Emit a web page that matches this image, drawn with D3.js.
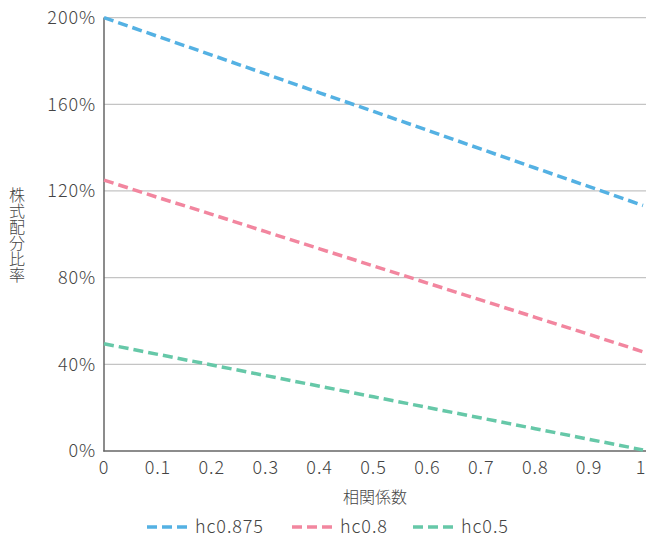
<!DOCTYPE html>
<html><head><meta charset="utf-8">
<script src="https://cdn.jsdelivr.net/npm/d3@7"></script>
<style>
body{margin:0;background:#fff;}
svg{display:block;font-family:"Noto Sans CJK JP","Noto Sans",sans-serif;}
</style></head>
<body>
<svg id="c" width="646" height="541"></svg>
<script>
const xValues = [0,0.1,0.2,0.3,0.4,0.5,0.6,0.7,0.8,0.9,1];
const seriesNames = ["hc0.875","hc0.8","hc0.5"];
const hc0875 = [200,191.3,182.7,174,165.3,156.7,148,139.3,130.6,122,113.3];
const hc08 = [125,117,109.2,101.2,93.3,85.4,77.5,69.6,61.7,53.8,45.8];
const hc05 = [49.5,44.6,39.7,34.8,29.9,25,20.1,15.2,10.3,5.4,0.5];
const colors = ["#54b1e3","#f2869f","#66c8a8"];
const yTicks = [0,40,80,120,160,200];
const xTicks = [0,0.1,0.2,0.3,0.4,0.5,0.6,0.7,0.8,0.9,1];
const xTitle = "相関係数";
const yTitle = "株式配分比率";

const svg = d3.select("#c");
const x = d3.scaleLinear().domain([0,1]).range([104,643]);
const y = d3.scaleLinear().domain([0,200]).range([451,17.6]);
const textColor = "#444";
const numFont = 18, numSpacing = 0.9;

// gridlines
svg.append("g").selectAll("line").data(yTicks.filter(d=>d>0)).join("line")
  .attr("x1",104).attr("x2",646).attr("y1",d=>y(d)).attr("y2",d=>y(d))
  .attr("stroke","#c4c4c4").attr("stroke-width",1.2);

// y tick labels
svg.append("g").selectAll("text").data(yTicks).join("text")
  .attr("x",96).attr("y",d=>y(d)).attr("dy","0.36em")
  .attr("text-anchor","end").attr("font-size",numFont).attr("font-weight",300)
  .attr("letter-spacing",numSpacing).attr("fill",textColor)
  .text(d=>d+"%");

// x tick labels
svg.append("g").selectAll("text").data(xTicks).join("text")
  .attr("x",d=>d===1 ? x(d)-2 : x(d)).attr("y",468).attr("dy","0.36em")
  .attr("text-anchor","middle").attr("font-size",numFont).attr("font-weight",300)
  .attr("letter-spacing",numSpacing).attr("fill",textColor)
  .text(d=>d3.format("")(d));

// axes lines
svg.append("line").attr("x1",104).attr("x2",104).attr("y1",17.6).attr("y2",451.5)
  .attr("stroke","#666").attr("stroke-width",1.5);
svg.append("line").attr("x1",103.3).attr("x2",646).attr("y1",451).attr("y2",451)
  .attr("stroke","#666").attr("stroke-width",1.5);

// lines
const data = [hc0875,hc08,hc05];
const line = d3.line().x((d,i)=>x(xValues[i])).y(d=>y(d));
svg.append("g").selectAll("path").data(data).join("path")
  .attr("d",line).attr("fill","none")
  .attr("stroke",(d,i)=>colors[i]).attr("stroke-width",3.5)
  .attr("stroke-dasharray","10,5");

// axis titles
svg.append("text").attr("x",375).attr("y",497).attr("dy","0.36em")
  .attr("text-anchor","middle").attr("font-size",16).attr("font-weight",300)
  .attr("fill",textColor).text(xTitle);
svg.append("text").attr("x",17).attr("y",235)
  .attr("text-anchor","middle").attr("dominant-baseline","central")
  .attr("font-size",16).attr("font-weight",300).attr("fill",textColor)
  .style("writing-mode","vertical-rl").style("text-orientation","upright")
  .text(yTitle);

// legend
const legX = [147,292,413];
const lg = svg.append("g").selectAll("g").data(seriesNames).join("g")
  .attr("transform",(d,i)=>`translate(${legX[i]},527)`);
lg.append("line").attr("x1",0).attr("x2",40).attr("y1",0).attr("y2",0)
  .attr("stroke",(d,i)=>colors[i]).attr("stroke-width",3.5).attr("stroke-dasharray","10,5");
lg.append("text").attr("x",48).attr("y",0).attr("dy","0.36em")
  .attr("font-size",numFont).attr("font-weight",300).attr("letter-spacing",numSpacing)
  .attr("fill",textColor).text(d=>d);
</script>
</body></html>
